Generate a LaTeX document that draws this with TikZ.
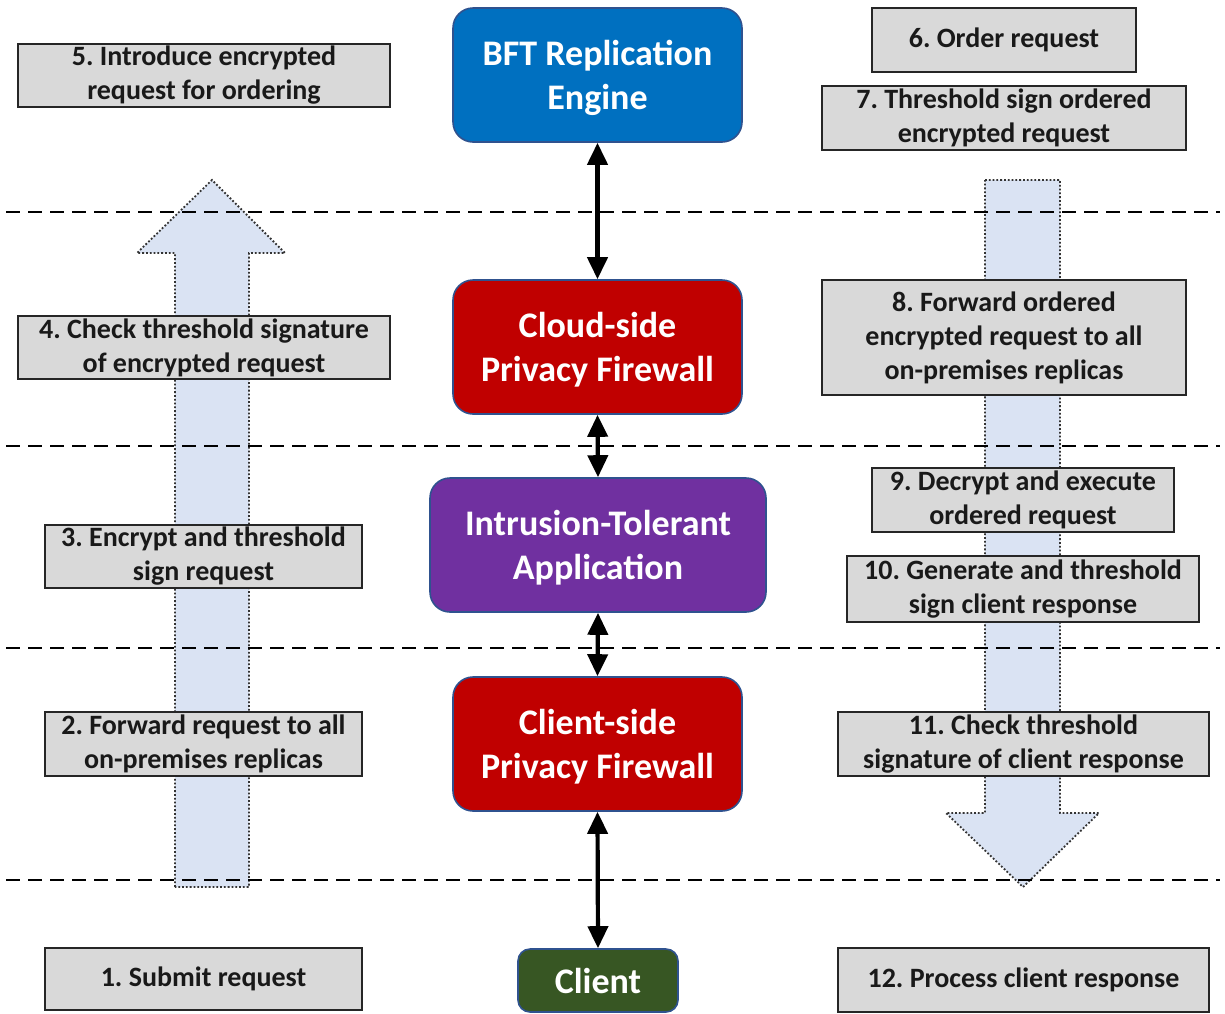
\documentclass[tikz,border=0pt]{standalone}
\usepackage{fontspec}
\setmainfont{Carlito}
\usetikzlibrary{arrows.meta}
\definecolor{bftblue}{HTML}{0070C0}
\definecolor{fwred}{HTML}{C00000}
\definecolor{apppurple}{HTML}{7030A0}
\definecolor{clientgreen}{HTML}{375623}
\definecolor{edgeblue}{HTML}{2F528F}
\definecolor{stepgray}{HTML}{D9D9D9}
\definecolor{flowfill}{HTML}{DAE3F3}
\tikzset{
  comp/.style={draw=edgeblue, line width=1.6pt, rounded corners=20pt, text=white,
    align=center, inner sep=0pt, text depth=0pt, font=\bfseries\fontsize{36}{44}\selectfont},
  stepbox/.style={draw=black!85, line width=1.6pt, fill=stepgray, text=black!90,
    align=center, inner sep=0pt, font=\bfseries\fontsize{28}{34}\selectfont},
  tier/.style={dash pattern=on 14pt off 8pt, line width=2.8pt},
  link/.style={{Triangle[width=20pt,length=22pt]}-{Triangle[width=20pt,length=22pt]}, line width=4.2pt},
  flow/.style={fill=flowfill, draw=black!80, line width=1.8pt, dotted},
}
\begin{document}
\frenchspacing
\begin{tikzpicture}[x=1pt,y=-1pt]
\useasboundingbox (0,0) rectangle (1225,1013);

% upward and downward flow arrows
\draw[flow] (175,887) -- (175,253) -- (137,253) -- (212,180) -- (285,253)
  -- (249,253) -- (249,887) -- cycle;
\draw[flow] (985,180) -- (1060,180) -- (1060,813) -- (1099,813) -- (1023,887)
  -- (946,813) -- (985,813) -- cycle;

% tier separators
\foreach \yy in {212,446,648,880}
  \draw[tier] (6,\yy) -- (1220,\yy);

% components
\node[comp, fill=bftblue, minimum width=289pt, minimum height=134pt]
  (bft) at (597.5,75) {BFT Replication\\Engine};
\node[comp, fill=fwred, minimum width=289pt, minimum height=134pt]
  (cfw) at (597.5,347) {Cloud-side\\Privacy Firewall};
\node[comp, fill=apppurple, minimum width=336pt, minimum height=134pt]
  (app) at (598,545) {Intrusion-Tolerant\\Application};
\node[comp, fill=fwred, minimum width=289pt, minimum height=134pt]
  (lfw) at (597.5,744) {Client-side\\Privacy Firewall};
\node[comp, fill=clientgreen, rounded corners=12pt, minimum width=160pt, minimum height=63pt]
  (cli) at (598,980.5) {Client};

% links between components
\draw[link] (bft.south) -- (cfw.north);
\draw[link] (cfw.south) -- (app.north);
\draw[link] (app.south) -- (lfw.north);
\draw[link] (lfw.south) -- (cli.north);

% request path
\node[stepbox, minimum width=372pt, minimum height=63pt] (s5) at (204,75.5)
  {5. Introduce encrypted\\request for ordering};
\node[stepbox, minimum width=372pt, minimum height=63pt] (s4) at (204,347.5)
  {4. Check threshold signature\\of encrypted request};
\node[stepbox, minimum width=317pt, minimum height=63pt] (s3) at (203.5,556.5)
  {3. Encrypt and threshold\\sign request};
\node[stepbox, minimum width=317pt, minimum height=64pt] (s2) at (203.5,744)
  {2. Forward request to all\\on-premises replicas};
\node[stepbox, minimum width=317pt, minimum height=62pt] (s1) at (203.5,979)
  {1. Submit request};

% response path
\node[stepbox, minimum width=264pt, minimum height=64pt] (s6) at (1004,40)
  {6. Order request};
\node[stepbox, minimum width=364pt, minimum height=64pt] (s7) at (1004,118)
  {7. Threshold sign ordered\\encrypted request};
\node[stepbox, minimum width=364pt, minimum height=115pt] (s8) at (1004,337.5)
  {8. Forward ordered\\encrypted request to all\\on-premises replicas};
\node[stepbox, minimum width=302pt, minimum height=64pt] (s9) at (1023,500)
  {9. Decrypt and execute\\ordered request};
\node[stepbox, minimum width=352pt, minimum height=66pt] (s10) at (1023,589)
  {10. Generate and threshold\\sign client response};
\node[stepbox, minimum width=371pt, minimum height=64pt] (s11) at (1023.5,744)
  {11. Check threshold\\signature of client response};
\node[stepbox, minimum width=371pt, minimum height=64pt] (s12) at (1023.5,980)
  {12. Process client response};
\end{tikzpicture}
\end{document}
